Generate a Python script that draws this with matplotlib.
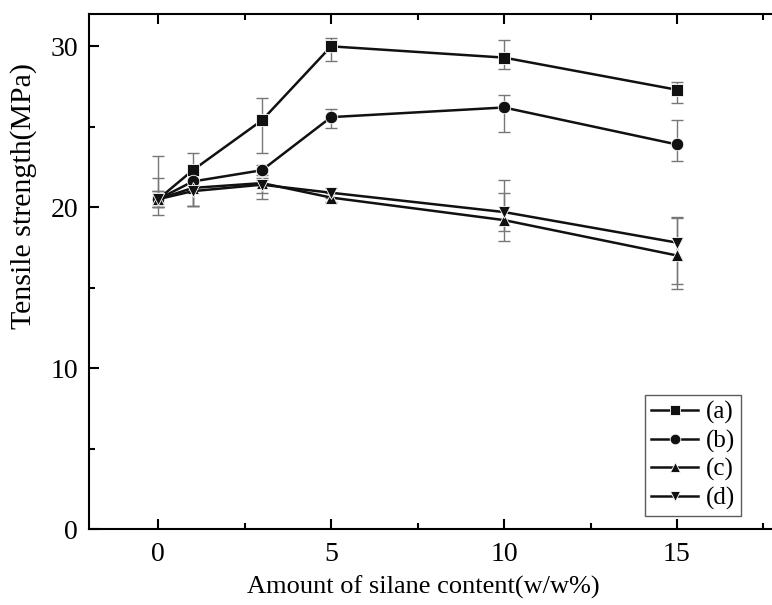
import matplotlib.pyplot as plt
from matplotlib.ticker import MultipleLocator

# silane content (w/w%)
silane = [0, 1, 3, 5, 10, 15]

# tensile strength (MPa) for the four series
ts_a = [20.5, 22.3, 25.4, 30.0, 29.3, 27.3]
ts_b = [20.5, 21.6, 22.3, 25.6, 26.2, 23.9]
ts_c = [20.5, 21.2, 21.5, 20.6, 19.2, 17.0]
ts_d = [20.5, 21.0, 21.4, 20.9, 19.7, 17.8]

# error bars (lower, upper)
err_a = [[1.0, 2.2, 2.0, 0.9, 0.7, 0.8], [2.7, 1.1, 1.4, 0.5, 1.1, 0.5]]
err_b = [[0.5, 0.4, 0.3, 0.7, 1.5, 1.0], [1.3, 0.4, 0.3, 0.5, 0.8, 1.5]]
err_c = [[0.5, 1.1, 1.0, 0.3, 1.3, 2.1], [0.5, 0.4, 0.3, 0.3, 1.7, 2.3]]
err_d = [[0.5, 0.9, 0.5, 0.3, 1.2, 2.6], [0.5, 0.4, 0.3, 0.3, 2.0, 1.6]]

labels = ['(a)', '(b)', '(c)', '(d)']
markers = ['s', 'o', '^', 'v']

plt.rcParams['font.family'] = ['Liberation Serif', 'DejaVu Serif']

fig = plt.figure(figsize=(7.72, 6.05), dpi=100)
# right spine falls just outside the picture, as in the original crop
ax = fig.add_axes([0.1153, 0.1256, 0.896, 0.851])

series = [ts_a, ts_b, ts_c, ts_d]
errs = [err_a, err_b, err_c, err_d]
for ys, e, m, lab in zip(series, errs, markers, labels):
    ax.errorbar(silane, ys, yerr=e, fmt='none', ecolor='#777777', elinewidth=1.0,
                capsize=4, capthick=1.0, zorder=2)
    ax.plot(silane, ys, color='#111111', lw=1.8, marker=m, markersize=9,
            markeredgecolor='white', markeredgewidth=0.6, label=lab, zorder=3)

ax.set_xlim(-2, 18)
ax.set_ylim(0, 32)
ax.xaxis.set_major_locator(MultipleLocator(5))
ax.xaxis.set_minor_locator(MultipleLocator(2.5))
ax.yaxis.set_major_locator(MultipleLocator(10))
ax.yaxis.set_minor_locator(MultipleLocator(5))
ax.tick_params(which='both', direction='in', top=True, right=False, labelsize=20, width=1.5)
ax.tick_params(which='major', length=7)
ax.tick_params(which='minor', length=4)
ax.tick_params(axis='x', pad=9)
ax.tick_params(axis='y', pad=8)
for s in ax.spines.values():
    s.set_linewidth(1.5)

ax.set_xlabel('Amount of silane content(w/w%)', fontsize=19)
ax.xaxis.set_label_coords(0.484, -0.09)
ax.set_ylabel('Tensile strength(MPa)', fontsize=21.5)
ax.yaxis.set_label_coords(-0.075, 0.647)

leg = ax.legend(loc='lower right', bbox_to_anchor=(0.943, 0.025), fontsize=18,
                frameon=True, fancybox=False, edgecolor='#333333', handlelength=1.9,
                handletextpad=0.3, borderpad=0.25, labelspacing=0.22, borderaxespad=0,
                markerscale=0.85)
leg.get_frame().set_linewidth(1.0)

fig.savefig('out.png', dpi=100)
